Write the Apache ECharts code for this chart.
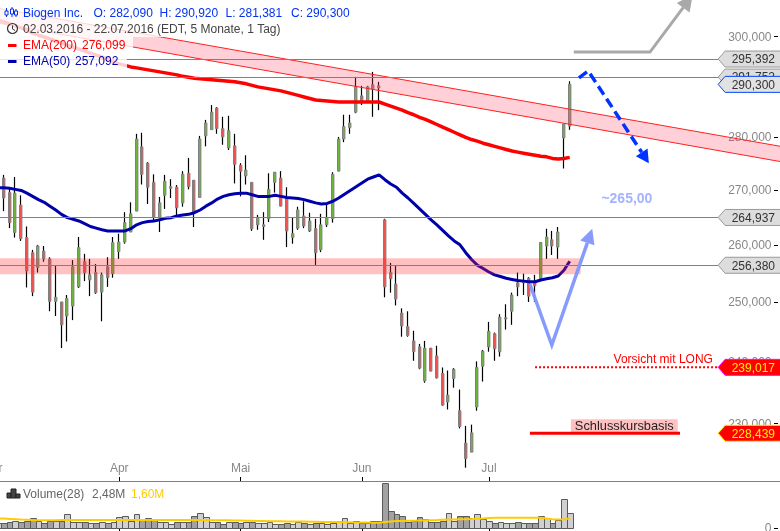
<!DOCTYPE html>
<html><head><meta charset="utf-8">
<style>html,body{margin:0;padding:0;background:#fff}#c{width:780px;height:531px}</style>
<script src="https://cdn.jsdelivr.net/npm/echarts@6/dist/echarts.min.js"></script>
</head><body><div id="c"></div>
<script>
const opens=[271.8,272.2,269.5,262.2,267.2,261.3,258.6,256.0,258.9,257.5,
250.1,250.0,247.6,249.3,252.6,257.0,253.8,255.1,251.7,256.1,
254.9,258.8,260.5,262.3,266.1,278.1,275.0,271.4,264.8,269.0,
270.3,270.5,267.6,273.1,271.8,268.6,280.2,281.4,285.6,281.6,
277.9,278.3,274.6,272.6,271.4,263.6,263.3,264.7,271.4,272.2,
268.5,261.3,263.0,265.2,262.5,262.9,259.1,263.6,264.7,273.5,
279.6,281.8,284.8,288.0,286.8,290.2,290.0,264.5,255.1,253.1,
248.1,245.8,243.4,242.4,236.8,242.2,240.9,238.0,233.4,237.2,
232.0,226.9,225.5,232.6,239.2,242.4,244.6,241.6,247.1,248.4,
253.3,253.3,254.1,253.3,254.0,259.8,260.9,259.6,279.8,282.09];
const closes=[273.3,268.5,264.0,269.4,261.1,255.4,251.7,259.8,257.5,250.1,
250.8,246.1,250.6,256.1,259.5,255.1,254.7,251.6,254.7,254.2,
260.4,260.5,264.0,265.6,279.6,272.9,270.5,265.0,267.6,271.6,
270.6,266.7,272.9,270.6,265.8,279.6,282.7,284.8,281.6,280.0,
281.2,274.8,273.5,273.7,262.9,264.9,263.6,270.1,273.3,267.0,
262.5,262.0,266.3,263.4,264.3,258.6,263.6,264.9,272.9,279.6,
282.0,282.7,289.8,286.8,289.8,289.4,289.6,252.6,254.0,250.5,
245.9,244.3,241.6,238.9,242.2,238.4,237.3,232.9,234.5,238.7,
229.5,224.5,228.5,239.0,241.7,245.0,242.1,247.4,247.3,251.2,
252.6,253.6,251.0,252.8,260.4,261.4,259.8,262.3,282.5,290.3];
const lows=[269.9,266.1,263.0,261.3,260.7,252.5,251.0,255.1,257.0,248.4,
247.6,242.2,243.3,246.9,252.4,253.6,251.0,251.4,246.7,252.6,
254.2,257.5,260.2,262.3,266.1,271.0,267.4,264.1,262.3,266.5,
268.5,265.2,266.9,270.1,263.2,268.6,278.2,281.4,280.6,278.5,
277.5,271.2,268.8,271.0,262.5,262.7,260.9,264.1,269.5,267.0,
259.6,260.2,262.7,263.0,262.3,256.4,258.7,263.2,264.0,273.5,
279.0,280.6,284.6,286.2,286.8,283.9,285.2,250.8,251.6,249.4,
244.1,244.1,240.1,238.7,236.5,238.4,237.2,232.8,232.2,235.7,
229.2,223.1,225.5,232.0,236.7,241.6,240.1,240.8,245.3,246.1,
251.0,251.2,250.0,250.0,254.0,257.5,258.2,257.5,274.0,281.381];
const highs=[273.7,272.8,270.5,272.4,269.0,263.3,259.1,260.0,259.8,257.8,
256.3,250.0,251.2,257.3,261.4,258.4,257.5,256.6,255.1,257.8,
261.4,262.0,265.9,267.7,280.6,280.8,275.2,272.9,268.7,272.8,
272.0,270.9,273.5,276.0,271.8,280.2,283.3,286.2,285.8,283.9,
284.1,280.6,275.0,276.5,271.4,265.4,265.9,273.1,273.3,273.5,
270.5,265.0,266.9,267.9,265.8,264.7,265.6,267.4,273.3,280.0,
284.3,284.3,291.8,290.0,290.0,292.8,290.8,264.7,256.8,256.3,
248.9,248.4,245.1,242.9,243.4,242.2,242.6,239.0,238.5,238.9,
235.4,229.6,229.8,240.0,241.9,246.6,244.8,247.9,249.6,251.6,
255.1,254.9,254.3,254.7,260.5,262.9,262.5,263.2,282.5,290.92];
const ema200=[303.4,303.0,302.6,302.2,301.8,301.3,300.7,300.3,299.9,299.5,
299.1,298.7,298.2,297.8,297.4,297.0,296.6,296.2,295.8,295.4,
294.8,294.4,294.1,293.8,293.6,293.4,293.2,293.0,292.8,292.6,
292.4,292.2,291.9,291.7,291.5,291.4,291.3,291.2,291.1,291.0,
290.9,290.8,290.6,290.4,290.1,289.8,289.6,289.4,289.2,289.0,
288.7,288.4,288.1,287.8,287.5,287.2,287.1,287.0,286.9,286.8,
286.8,286.8,286.8,286.8,286.8,286.8,286.8,286.4,286.0,285.6,
285.2,284.7,284.3,283.8,283.4,282.9,282.4,281.9,281.4,280.9,
280.4,279.9,279.5,279.2,278.8,278.5,278.2,277.9,277.6,277.3,
277.1,276.9,276.7,276.5,276.3,276.2,275.9,275.8,275.9,276.099];
const ema50=[270.4,270.4,270.3,270.1,269.9,269.4,268.8,268.2,267.7,267.0,
266.3,265.5,264.9,264.6,264.3,263.8,263.3,263.0,262.7,262.5,
262.5,262.5,262.5,262.9,263.6,264.0,264.2,264.3,264.5,264.8,
264.9,265.2,265.4,265.5,265.8,266.3,267.0,267.6,268.3,268.8,
269.1,269.3,269.4,269.4,269.1,268.8,268.8,268.8,269.0,268.8,
268.6,268.5,268.4,268.2,267.9,267.6,267.4,267.5,267.9,268.5,
269.2,269.9,270.6,271.3,272.0,272.4,272.8,271.9,271.1,270.5,
269.4,268.5,267.5,266.5,265.5,264.5,263.6,262.6,261.6,260.7,
260.0,258.6,257.4,256.4,255.8,255.2,254.7,254.4,254.1,253.9,
253.7,253.6,253.5,253.5,253.8,254.0,254.2,254.5,255.5,257.092];
const volumes=[0.9,0.89,1.06,1.22,1.06,1.22,1.61,1.22,0.89,1.22,
1.22,1.22,2.28,1.06,1.06,1.06,0.78,0.78,1.06,0.78,
1.06,1.78,1.94,1.22,2.28,1.44,1.61,1.44,0.94,0.94,
0.61,1.06,1.06,1.06,1.94,2.44,1.78,1.06,1.06,0.72,
0.94,1.06,0.89,1.06,1.06,0.78,0.78,1.06,0.61,0.61,
0.89,0.61,0.94,0.78,0.61,0.78,0.89,0.61,0.89,1.22,
1.61,0.78,1.22,0.78,0.78,1.22,1.22,7.44,2.89,2.28,
2.06,1.06,1.22,1.78,1.44,1.06,1.06,1.22,2.44,1.22,
2.06,2.06,1.61,2.28,1.44,1.22,0.89,1.06,0.78,0.89,
1.06,0.78,0.89,0.89,2.06,1.61,0.78,1.33,4.83,2.48];
const volumeAvg=[1.6,1.58,1.52,1.46,1.4,1.36,1.32,1.3,1.28,1.28,
1.3,1.32,1.32,1.32,1.32,1.33,1.33,1.33,1.33,1.33,
1.33,1.33,1.33,1.33,1.33,1.33,1.33,1.33,1.33,1.33,
1.33,1.33,1.33,1.33,1.33,1.33,1.32,1.3,1.3,1.28,
1.28,1.26,1.24,1.22,1.2,1.18,1.16,1.14,1.12,1.12,
1.1,1.1,1.1,1.08,1.06,1.04,1.02,1.0,1.0,0.98,
0.96,0.94,0.92,0.9,0.9,0.89,0.89,1.0,1.1,1.15,
1.18,1.2,1.22,1.25,1.28,1.3,1.33,1.37,1.4,1.42,
1.45,1.47,1.5,1.55,1.6,1.68,1.72,1.72,1.72,1.72,
1.72,1.72,1.72,1.72,1.72,1.6,1.45,1.4,1.45,1.6];
const monthIndex=[-1,21,42,63,85];
const monthLabels=['Mar','Apr','Mai','Jun','Jul'];
const yTickValues=[230,240,250,260,270,280,290,300];
const levelLines=[295.392,291.752,264.937,256.38];
const channelX=[-2,136];
const channelUpper=[306.3,278.1];
const channelLower=[303.2,275.2];
const zoneRange=[254.8,257.6];
const grayArrowX=[99.7,112.9,120.3], grayArrowY=[296.8,296.8,308.7];
const blueArrowX=[100.6,102.2,112.7], blueArrowY=[291.6,293.0,275.0];
const lightArrowX=[92.1,95.9,102.9], lightArrowY=[253.1,242.7,262.9];

const fmt=v=>v.toFixed(3).replace('.',',');
const xMin=-2,xMax=135.5;
const FONT='12px "Liberation Sans", Arial, sans-serif';

function polyArrow(api,xs,ys,color,lw,dash,hl,hw,opacity){
  const pts=xs.map((x,i)=>api.coord([x,ys[i]]));
  const n=pts.length,a=pts[n-2],b=pts[n-1];
  const dx=b[0]-a[0],dy=b[1]-a[1],L=Math.hypot(dx,dy),ux=dx/L,uy=dy/L;
  const bx=b[0]-ux*hl,by=b[1]-uy*hl;
  const line=pts.slice(0,n-1).concat([[bx,by]]);
  return [{type:'polyline',shape:{points:line},style:{stroke:color,lineWidth:lw,fill:null,lineDash:dash||null,opacity:opacity||1,lineJoin:'miter'}},
   {type:'polygon',shape:{points:[b,[bx-uy*hw,by+ux*hw],[bx+uy*hw,by-ux*hw]]},style:{fill:color,opacity:opacity||1}}];
}
function tag(api,val,fill,stroke,color){
  const tipI=124.7,y=api.coord([0,val])[1],xt=api.coord([tipI,val])[0],xr=api.coord([xMax,val])[0];
  return [{type:'polygon',shape:{points:[[xt,y],[xt+7,y-8],[xr+3,y-8],[xr+3,y+8],[xt+7,y+8]]},style:{fill,stroke,lineWidth:1}},
   {type:'text',style:{x:xr-5.5,y:y+1,text:fmt(val),font:FONT,fill:color,align:'right',verticalAlign:'middle'}}];
}

const candleData=opens.map((o,i)=>[i,o,closes[i],lows[i],highs[i]]);
const volumeData=volumes.map((v,i)=>[i,v,closes[i]>=opens[i]?1:0]);
const one=[[0,300]];

const option={
 animation:false,backgroundColor:'#fff',
 grid:[
  {left:-13.55,width:794.06,top:0,height:481,outerBoundsMode:'none',containLabel:false},
  {left:-13.55,width:794.06,top:483,height:45,outerBoundsMode:'none',containLabel:false}],
 xAxis:[
  {type:'value',gridIndex:0,min:xMin,max:xMax,splitLine:{show:false},
   axisLine:{show:true,onZero:false,lineStyle:{color:'#808080',width:1}},
   axisTick:{show:true,inside:true,length:4,customValues:monthIndex,lineStyle:{color:'#000',width:1}},
   axisLabel:{show:true,inside:true,margin:6,customValues:monthIndex,color:'#888',fontFamily:'Liberation Sans',fontSize:12,
     formatter:v=>monthLabels[monthIndex.indexOf(Math.round(v))]||''}},
  {type:'value',gridIndex:1,min:xMin,max:xMax,splitLine:{show:false},
   axisLine:{show:false,onZero:false},
   axisTick:{show:true,length:3,customValues:monthIndex,lineStyle:{color:'#000',width:1}},
   axisLabel:{show:false}}],
 yAxis:[
  {type:'log',gridIndex:0,min:221.07,max:307.615,show:false,splitLine:{show:false}},
  {type:'value',gridIndex:1,min:0,max:7.5,show:false,splitLine:{show:false}}],
 series:[
  {type:'custom',z:1,xAxisIndex:0,yAxisIndex:0,data:one,silent:true,clip:false,
   renderItem:(p,api)=>({type:'group',children:yTickValues.flatMap(v=>{
     const c=api.coord([xMax,v]);
     return [{type:'line',shape:{x1:c[0]-6.5,y1:Math.round(c[1])+.5,x2:c[0]-2.5,y2:Math.round(c[1])+.5},style:{stroke:'#000',lineWidth:1}},
       {type:'text',style:{x:c[0]-9,y:c[1]+1,text:fmt(v),font:FONT,fill:'#888',align:'right',verticalAlign:'middle'}}];
   })})},
  {type:'custom',z:1,xAxisIndex:1,yAxisIndex:1,data:[[0,0]],silent:true,clip:false,
   renderItem:(p,api)=>{const c=api.coord([xMax,0]);
     return {type:'group',children:[
      {type:'line',shape:{x1:c[0]-6.5,y1:c[1]+.5,x2:c[0]-2.5,y2:c[1]+.5},style:{stroke:'#000',lineWidth:1}},
      {type:'text',style:{x:c[0]-9,y:c[1]+1,text:'0',font:FONT,fill:'#888',align:'right',verticalAlign:'middle'}}]};}},
  {name:'candles',type:'custom',z:2,xAxisIndex:0,yAxisIndex:0,data:candleData,silent:true,
   encode:{x:0,y:[1,2,3,4]},
   renderItem:(p,api)=>{
     const i=api.value(0),o=api.value(1),c=api.value(2),l=api.value(3),h=api.value(4);
     const L=Math.round(api.coord([i,o])[0]-2);
     const yo=api.coord([i,o])[1],yc=api.coord([i,c])[1],yl=api.coord([i,l])[1],yh=api.coord([i,h])[1];
     const top=Math.min(yo,yc),ht=Math.max(Math.abs(yo-yc),1);
     return {type:'group',children:[
      {type:'line',shape:{x1:L+1.5,y1:yh,x2:L+1.5,y2:yl},style:{stroke:'#000',lineWidth:1.2}},
      {type:'rect',shape:{x:L+.5,y:top,width:2.4,height:ht},style:{fill:c>=o?'#6cb43c':'#f05050',stroke:'#808080',lineWidth:1}}]};}},
  {name:'EMA200',type:'line',z:3,xAxisIndex:0,yAxisIndex:0,showSymbol:false,silent:true,
   data:ema200.map((v,i)=>[i,v]),lineStyle:{color:'#ff0000',width:3.5}},
  {name:'EMA50',type:'line',z:3,xAxisIndex:0,yAxisIndex:0,showSymbol:false,silent:true,
   data:ema50.map((v,i)=>[i,v]),lineStyle:{color:'#0000aa',width:3}},
  {name:'overlays',type:'custom',z:4,xAxisIndex:0,yAxisIndex:0,data:one,silent:true,clip:false,
   renderItem:(p,api)=>{
     const ch=[];
     const a=api.coord([channelX[0],channelUpper[0]]),b=api.coord([channelX[1],channelUpper[1]]),
           c=api.coord([channelX[1],channelLower[1]]),d=api.coord([channelX[0],channelLower[0]]);
     ch.push({type:'polygon',shape:{points:[a,b,c,d]},style:{fill:'rgba(255,60,90,0.24)'}});
     ch.push({type:'line',shape:{x1:a[0],y1:a[1],x2:b[0],y2:b[1]},style:{stroke:'#ff2020',lineWidth:1}});
     ch.push({type:'line',shape:{x1:d[0],y1:d[1],x2:c[0],y2:c[1]},style:{stroke:'#ff2020',lineWidth:1}});
     const z1=api.coord([-2,zoneRange[1]]),z2=api.coord([100.9,zoneRange[0]]);
     ch.push({type:'rect',shape:{x:z1[0],y:z1[1],width:z2[0]-z1[0],height:z2[1]-z1[1]},style:{fill:'rgba(255,40,40,0.29)'}});
     levelLines.forEach(v=>{
       const e=api.coord([124.7,v]),y=Math.round(e[1])+.5;
       ch.push({type:'line',shape:{x1:0,y1:y,x2:e[0],y2:y},style:{stroke:'#808080',lineWidth:1}});
     });
     return {type:'group',children:ch};}},
  {name:'annotations',type:'custom',z:5,xAxisIndex:0,yAxisIndex:0,data:one,silent:true,clip:false,
   renderItem:(p,api)=>{
     let ch=[];
     ch=ch.concat(polyArrow(api,grayArrowX,grayArrowY,'#a9a9a9',3,null,16,8));
     ch=ch.concat(polyArrow(api,blueArrowX,blueArrowY,'#0033ff',3.5,[10,5],13,7));
     ch=ch.concat(polyArrow(api,lightArrowX,lightArrowY,'#7f96fb',3.5,null,15,7.5,0.95));
     const t=api.coord([108.9,268.3]);
     ch.push({type:'text',style:{x:t[0],y:t[1],text:'~265,00',font:'bold 14px "Liberation Sans", Arial, sans-serif',fill:'#a3b3ff',align:'center',verticalAlign:'middle'}});
     const vy=api.coord([0,239.017])[1];
     const ds=api.coord([93,239.017])[0],de=api.coord([124.7,239.017])[0];
     ch.push({type:'line',shape:{x1:ds,y1:vy,x2:de,y2:vy},style:{stroke:'#ff0000',lineWidth:2,lineDash:[2,2]}});
     ch.push({type:'text',style:{x:api.coord([123.8,239])[0],y:vy-7.5,text:'Vorsicht mit LONG',font:FONT,fill:'#ff0000',align:'right',verticalAlign:'middle'}});
     const sy=api.coord([0,228.439])[1];
     const bs=api.coord([99.2,228])[0],be=api.coord([117.7,228])[0];
     ch.push({type:'rect',shape:{x:bs,y:sy-14,width:be-bs,height:13},style:{fill:'#ffc0c0'}});
     ch.push({type:'text',style:{x:(bs+be)/2,y:sy-7,text:'Schlusskursbasis',font:'12.8px "Liberation Sans", Arial, sans-serif',fill:'#222',align:'center',verticalAlign:'middle'}});
     ch.push({type:'line',shape:{x1:api.coord([92.1,228])[0],y1:sy,x2:api.coord([118.1,228])[0],y2:sy},style:{stroke:'#ff0000',lineWidth:3}});
     return {type:'group',children:ch};}},
  {name:'tags',type:'custom',z:6,xAxisIndex:0,yAxisIndex:0,data:one,silent:true,clip:false,
   renderItem:(p,api)=>{
     let ch=[];
     [295.392,291.752,264.937,256.38].forEach(v=>{ch=ch.concat(tag(api,v,'#dddddd','#999999','#333'));});
     ch=ch.concat(tag(api,290.3,'#e2e2e2','#0044ff','#333'));
     ch=ch.concat(tag(api,239.017,'#ff0000','#ff00ff','#ffee00'));
     ch=ch.concat(tag(api,228.439,'#ff0000','#ffee00','#ffee00'));
     return {type:'group',children:ch};}},
  {name:'Volume',type:'custom',z:2,xAxisIndex:1,yAxisIndex:1,silent:true,data:volumeData,
   encode:{x:0,y:1},
   renderItem:(p,api)=>{
     const i=api.value(0),v=api.value(1),up=api.value(2);
     const x1=Math.round(api.coord([i-.5,0])[0])+.5,x2=Math.round(api.coord([i+.5,0])[0])+.5;
     const y0=Math.round(api.coord([i,0])[1])+.5,y1=Math.round(api.coord([i,v])[1])+.5;
     return {type:'rect',shape:{x:x1,y:y1,width:x2-x1,height:y0-y1},style:{fill:up?'#d0d0d0':'#a2a2a2',stroke:'#5a5a5a',lineWidth:1}};}},
  {name:'VolumeAvg',type:'line',z:3,xAxisIndex:1,yAxisIndex:1,showSymbol:false,silent:true,
   data:volumeAvg.map((v,i)=>[i,v]),lineStyle:{color:'#ffcc00',width:2}}
 ],
 graphic:{elements:[
  {type:'rect',z:20,silent:true,shape:{x:0,y:5,width:352,height:16},style:{fill:'rgba(255,255,255,0.8)'}},
  {type:'rect',z:20,silent:true,shape:{x:0,y:21,width:284,height:16},style:{fill:'rgba(255,255,255,0.8)'}},
  {type:'rect',z:20,silent:true,shape:{x:0,y:37,width:133,height:16},style:{fill:'rgba(255,255,255,0.8)'}},
  {type:'rect',z:20,silent:true,shape:{x:0,y:53,width:127,height:16},style:{fill:'rgba(255,255,255,0.8)'}},
  ...[[6,8,17,11,15],[11.5,7,17,9,14],[15.5,9,17,11,15]].flatMap(a=>[
    {type:'line',z:21,silent:true,shape:{x1:a[0]+.5,y1:a[1],x2:a[0]+.5,y2:a[2]},style:{stroke:'#0033ee',lineWidth:1}},
    {type:'rect',z:21,silent:true,shape:{x:a[0]-1,y:a[3],width:3,height:a[4]-a[3]},style:{fill:'#fff',stroke:'#0033ee',lineWidth:1}}]),
  {type:'circle',z:21,silent:true,shape:{cx:12.5,cy:28.5,r:5},style:{fill:'none',stroke:'#333',lineWidth:1.2}},
  {type:'polyline',z:21,silent:true,shape:{points:[[12.5,25.5],[12.5,29],[15,30.5]]},style:{fill:'none',stroke:'#333',lineWidth:1}},
  {type:'line',z:21,silent:true,shape:{x1:8,y1:45.5,x2:16.5,y2:45.5},style:{stroke:'#ff0000',lineWidth:3}},
  {type:'line',z:21,silent:true,shape:{x1:8,y1:61.5,x2:16.5,y2:61.5},style:{stroke:'#0000aa',lineWidth:3}},
  ...[
   ['Biogen Inc.',23,13.5,'#0033ee'],['O: 282,090',93.5,13.5,'#0033ee'],['H: 290,920',159.5,13.5,'#0033ee'],['L: 281,381',225.5,13.5,'#0033ee'],['C: 290,300',291,13.5,'#0033ee'],
   ['02.03.2016 - 22.07.2016 (EDT, 5 Monate, 1 Tag)',23,29.5,'#444'],
   ['EMA(200)',23,45.5,'#ff0000'],['276,099',82,45.5,'#ff0000'],
   ['EMA(50)',23,61.5,'#0000aa'],['257,092',75,61.5,'#0000aa'],
   ['Volume(28)',23,495,'#666'],['2,48M',92,495,'#666'],['1,60M',131,495,'#ffcc00']
  ].map(t=>({type:'text',z:22,silent:true,style:{x:t[1],y:t[2],text:t[0],font:FONT,fill:t[3],verticalAlign:'middle'}})),
  ...[[7,493,4,5],[11,489,5,9],[16,494,4,4]].map(r=>({type:'rect',z:21,silent:true,shape:{x:r[0],y:r[1],width:r[2],height:r[3]},style:{fill:'#444',stroke:'#222',lineWidth:1}}))
 ]}
};
const chart=echarts.init(document.getElementById('c'),null,{renderer:'canvas',width:780,height:531});
chart.setOption(option);
</script></body></html>
